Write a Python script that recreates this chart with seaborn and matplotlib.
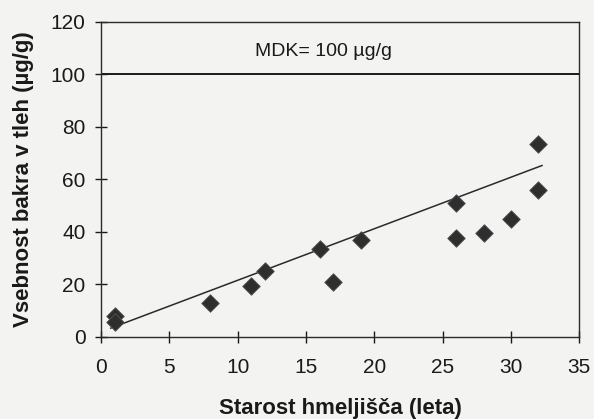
import matplotlib
matplotlib.use("Agg")
import matplotlib.pyplot as plt
import seaborn as sns
import pandas as pd

# Starost hmeljisca (leta) in vsebnost bakra v tleh (ug/g)
starost = [1, 1, 8, 11, 12, 16, 17, 19, 26, 26, 28, 30, 32, 32]
baker = [8, 5.5, 13, 19.5, 25, 33.5, 21, 37, 51, 37.5, 39.5, 45, 73.5, 56]

# trendna crta (odcitano s slike)
trend_x = [0.7, 32.3]
trend_y = [3.3, 65.3]

mdk = 100
x_ticks = [0, 5, 10, 15, 20, 25, 30, 35]
y_ticks = [0, 20, 40, 60, 80, 100, 120]

df = pd.DataFrame({'starost': starost, 'baker': baker})

sns.set_style('white')
plt.rcParams['font.family'] = ['Liberation Sans', 'DejaVu Sans']

fig = plt.figure(figsize=(5.94, 4.19), dpi=100)
fig.patch.set_facecolor('#f3f3f1')
ax = fig.add_axes([0.170, 0.196, 0.805, 0.752])
ax.set_facecolor('#f3f3f1')

sns.lineplot(x=trend_x, y=trend_y, color='#2a2a2a', linewidth=1.1, ax=ax)
sns.scatterplot(data=df, x='starost', y='baker', marker='D', s=80,
                color='#2e2e2e', edgecolor='#555555', linewidth=0.6, ax=ax, zorder=3)
ax.axhline(mdk, color='#1a1a1a', linewidth=1.4)
ax.text(16.3, 108.5, 'MDK= 100 µg/g', ha='center', va='center', fontsize=14, color='#1a1a1a')

ax.set_xlim(0, 35)
ax.set_ylim(0, 120)
ax.set_xticks(x_ticks)
ax.set_yticks(y_ticks)
ax.tick_params(bottom=True, left=True, direction='inout', length=8, width=1,
               labelsize=15, colors='#1a1a1a', pad=7)
ax.tick_params(axis='x', pad=11)
for s in ax.spines.values():
    s.set_color('#2a2a2a')
    s.set_linewidth(1.0)

ax.set_xlabel('Starost hmeljišča (leta)', fontsize=16, fontweight='bold', color='#1a1a1a', labelpad=15)
ax.set_ylabel('Vsebnost bakra v tleh (µg/g)', fontsize=16, fontweight='bold', color='#1a1a1a', labelpad=12)

fig.savefig('out.png', dpi=100, facecolor=fig.get_facecolor())
